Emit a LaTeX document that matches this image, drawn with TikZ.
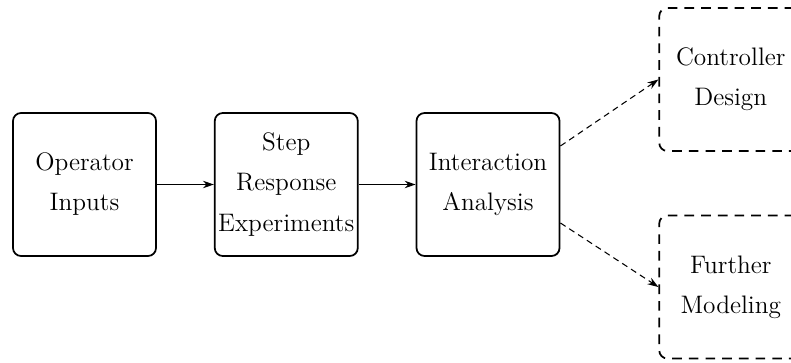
\documentclass[tikz,border=0pt]{standalone}
\usepackage{tikz}
\usetikzlibrary{positioning,arrows.meta,calc}
\tikzset{
  stage/.style={draw, line width=1pt, rounded corners=0.16cm, align=center, minimum width=2.86cm, minimum height=2.86cm, inner sep=0pt, font=\fontsize{14.4}{22.8}\selectfont},
  later/.style={stage, dash pattern=on 5.5pt off 4pt},
  arrow/.style={-{Stealth[length=2.2mm, width=1.5mm]}, line width=0.6pt},
  darrow/.style={arrow, dash pattern=on 3.5pt off 2.5pt}
}
\begin{document}
\begin{tikzpicture}
    \useasboundingbox (0,0) rectangle (15.82,7.24);
    \clip (0,0) rectangle (15.82,7.24);
    \node[stage] (ops) at (1.69,3.55) {Operator\\Inputs};
    \node[stage, right=1.14cm of ops] (step) {Step\\Response\\Experiments};
    \node[stage, right=1.14cm of step] (inter) {Interaction\\Analysis};
    \node[later, right=1.96cm of inter, yshift=2.1cm] (ctrl) {Controller\\Design};
    \node[later, right=1.96cm of inter, yshift=-2.05cm] (model) {Further\\Modeling};
    \draw[arrow] (ops) -- (step);
    \draw[arrow] (step) -- (inter);
    \draw[darrow] (inter.28) -- (ctrl.west);
    \draw[darrow] (inter.-28) -- (model.west);
\end{tikzpicture}
\end{document}
